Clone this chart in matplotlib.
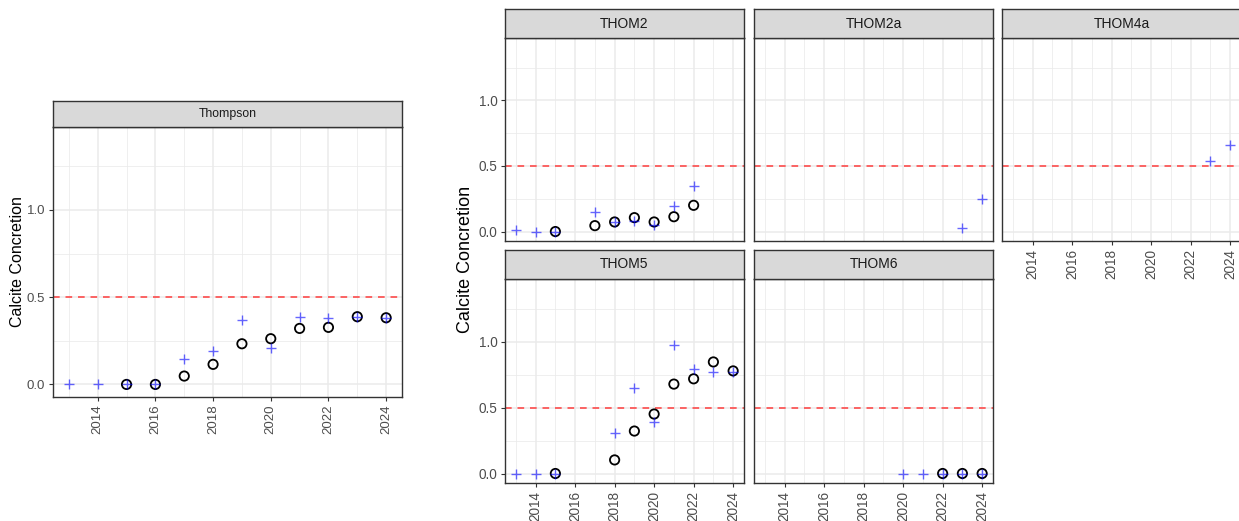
import matplotlib.pyplot as plt
import numpy as np

plt.rcParams['font.family'] = ['Liberation Sans', 'DejaVu Sans']

# Thompson (aggregate)
thompson_cross_years = [2013, 2014, 2015, 2016, 2017, 2018, 2019, 2020, 2021, 2022, 2023, 2024]
thompson_cross = [0.005, 0.0, 0.0, 0.0, 0.143, 0.193, 0.369, 0.21, 0.388, 0.382, 0.388, 0.382]
thompson_circle_years = [2015, 2016, 2017, 2018, 2019, 2020, 2021, 2022, 2023, 2024]
thompson_circle = [0.0, 0.0, 0.048, 0.115, 0.233, 0.262, 0.321, 0.327, 0.388, 0.382]

# sites
thom2_cross_years = [2013, 2014, 2015, 2017, 2018, 2019, 2020, 2021, 2022]
thom2_cross = [0.01, 0.0, 0.0, 0.149, 0.076, 0.08, 0.05, 0.194, 0.35]
thom2_circle_years = [2015, 2017, 2018, 2019, 2020, 2021, 2022]
thom2_circle = [0.0, 0.045, 0.073, 0.106, 0.073, 0.113, 0.2]

thom2a_cross_years = [2023, 2024]
thom2a_cross = [0.03, 0.25]
thom2a_circle_years = []
thom2a_circle = []

thom4a_cross_years = [2023, 2024]
thom4a_cross = [0.535, 0.66]
thom4a_circle_years = []
thom4a_circle = []

thom5_cross_years = [2013, 2014, 2015, 2018, 2019, 2020, 2021, 2022, 2023, 2024]
thom5_cross = [0.0, 0.0, 0.0, 0.305, 0.652, 0.393, 0.975, 0.791, 0.773, 0.773]
thom5_circle_years = [2015, 2018, 2019, 2020, 2021, 2022, 2023, 2024]
thom5_circle = [0.0, 0.103, 0.322, 0.451, 0.678, 0.718, 0.846, 0.778]

thom6_cross_years = [2020, 2021, 2022, 2023, 2024]
thom6_cross = [0.0, 0.0, 0.0, 0.0, 0.0]
thom6_circle_years = [2022, 2023, 2024]
thom6_circle = [0.0, 0.0, 0.0]

threshold = 0.5

W, H = 1239, 521
fig = plt.figure(figsize=(W / 100, H / 100), dpi=100)


def box(x0, x1, y0, y1):
    # pixel box -> figure fraction
    return [x0 / W, 1 - y1 / H, (x1 - x0) / W, (y1 - y0) / H]


def panel(px, strip_y, title, cy, cv, xy, xv, xlabels, ylabels, fs_strip, fs_tick):
    x0, x1, y0, y1 = px
    ax = fig.add_axes(box(x0, x1, y0, y1))
    ax.set_xlim(2012.45, 2024.55)
    ax.set_ylim(-0.072, 1.475)
    ax.set_xticks(np.arange(2014, 2025, 2))
    ax.set_xticks(np.arange(2013, 2024, 2), minor=True)
    ax.set_yticks([0.0, 0.5, 1.0])
    ax.set_yticks([0.25, 0.75, 1.25], minor=True)
    ax.set_yticklabels(['0.0', '0.5', '1.0'])
    ax.grid(which='major', color='#EBEBEB', lw=1.1, zorder=0)
    ax.grid(which='minor', color='#EBEBEB', lw=0.55, zorder=0)
    ax.set_axisbelow(True)
    for s in ax.spines.values():
        s.set_color('#333333')
        s.set_linewidth(1.0)
    ax.tick_params(which='minor', length=0)
    ax.tick_params(which='major', length=3, width=0.8, color='#333333',
                   labelcolor='#4D4D4D', labelsize=fs_tick, pad=2.5)
    ax.tick_params(axis='x', labelrotation=90)
    if not xlabels:
        ax.tick_params(axis='x', which='major', length=0, labelbottom=False)
    if not ylabels:
        ax.tick_params(axis='y', which='major', length=0, labelleft=False)
    ax.axhline(threshold, color='#FF2E2E', lw=1.2, ls=(0, (4, 3.5)), alpha=0.85, zorder=2)
    ax.scatter(cy, cv, s=45, facecolors='none', edgecolors='black', linewidths=1.3, zorder=3)
    ax.scatter(xy, xv, s=60, marker='+', color='#0000FF', alpha=0.6, linewidths=1.0, zorder=4)

    sy0, sy1 = strip_y
    sax = fig.add_axes(box(x0, x1, sy0, sy1))
    sax.set_facecolor('#D9D9D9')
    sax.set_xticks([])
    sax.set_yticks([])
    for s in sax.spines.values():
        s.set_color('#333333')
        s.set_linewidth(1.0)
    sax.text(0.5, 0.5, title, ha='center', va='center', fontsize=fs_strip,
             color='#1A1A1A', transform=sax.transAxes)
    return ax


# left: aggregated
panel((53, 402, 127, 397), (101, 127), 'Thompson',
      thompson_circle_years, thompson_circle, thompson_cross_years, thompson_cross,
      True, True, 8.8, 9.5)
fig.text(18 / W, 1 - 262 / H, 'Calcite Concretion', rotation=90, ha='center', va='center',
         fontsize=11.5, color='black')

# right: per site facets
cols = [(505, 744), (754, 993), (1002, 1241)]
row1 = ((38, 241), (9, 38))
row2 = ((279, 483), (250, 279))

panel((*cols[0], *row1[0]), row1[1], 'THOM2', thom2_circle_years, thom2_circle,
      thom2_cross_years, thom2_cross, False, True, 10, 9.8)
panel((*cols[1], *row1[0]), row1[1], 'THOM2a', thom2a_circle_years, thom2a_circle,
      thom2a_cross_years, thom2a_cross, False, False, 10, 9.8)
panel((*cols[2], *row1[0]), row1[1], 'THOM4a', thom4a_circle_years, thom4a_circle,
      thom4a_cross_years, thom4a_cross, True, False, 10, 9.8)
panel((*cols[0], *row2[0]), row2[1], 'THOM5', thom5_circle_years, thom5_circle,
      thom5_cross_years, thom5_cross, True, True, 10, 9.8)
panel((*cols[1], *row2[0]), row2[1], 'THOM6', thom6_circle_years, thom6_circle,
      thom6_cross_years, thom6_cross, True, False, 10, 9.8)
fig.text(466 / W, 1 - 259 / H, 'Calcite Concretion', rotation=90, ha='center', va='center',
         fontsize=13, color='black')

plt.savefig('out.png', dpi=100)
plt.close()
